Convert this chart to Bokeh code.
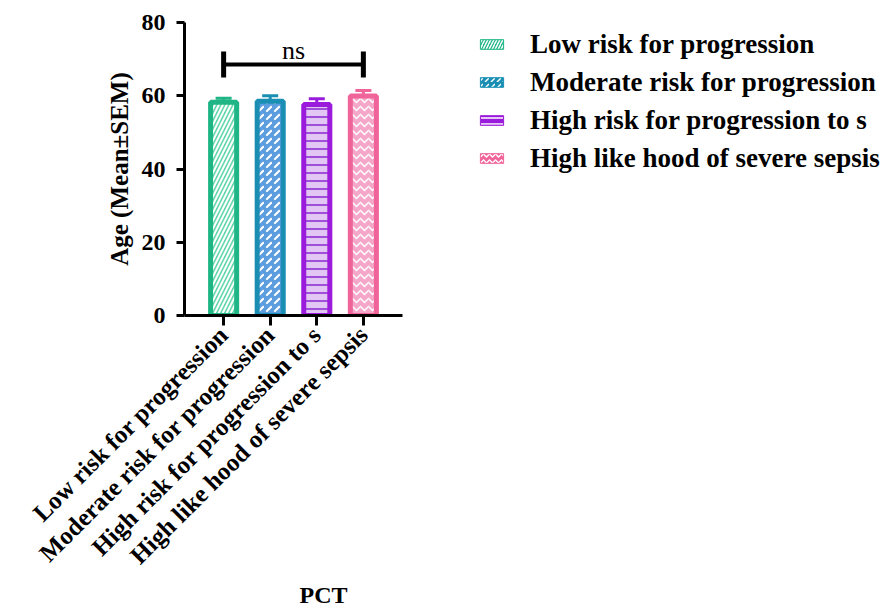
from math import pi
from bokeh.plotting import figure
from bokeh.layouts import row
from bokeh.models import (FactorRange, Range1d, FixedTicker, Legend, LegendItem,
                          Whisker, TeeHead, Label, ColumnDataSource)
from bokeh.embed import file_html
from bokeh.resources import INLINE

# ---- data ----
categories = ["Low risk for progression", "Moderate risk for progression",
              "High risk for progression to s", "High like hood of severe sepsis"]
mean_age = [58.2, 58.5, 57.6, 59.9]
sem_age = [1.1, 1.5, 1.6, 1.5]
y_ticks = [0, 20, 40, 60, 80]
sig_label = "ns"
x_title = "PCT"
y_title = "Age (Mean\u00b1SEM)"

# ---- styles ----
FONT = "Liberation Serif"
border_colors = ["#1fb585", "#1a8fb3", "#9a1bdc", "#f0649a"]
fill_colors = ["#62d6aa", "#5c9de0", "#e2c6f3", "#f4a7c8"]
hatch_colors = ["white", "white", "#a050d8", "white"]
hatch_patterns = ["/", ",", "-", "v"]


def bar_style(bc, fc, hc, hp):
    return dict(fill_color=fc, line_color=bc, line_width=5, hatch_pattern=hp,
                hatch_color=hc, hatch_scale=8, hatch_weight=1.5 if hp == "v" else 2)


p = figure(width=410, height=610,
           x_range=FactorRange(*categories, range_padding=0.34, range_padding_units="absolute"),
           y_range=Range1d(0, 80),
           output_backend="svg", toolbar_location=None,
           min_border_left=184, min_border_right=8, min_border_top=22, min_border_bottom=295)
p.outline_line_color = None
p.xgrid.visible = False
p.ygrid.visible = False

for cat, m, s, bc, fc, hc, hp in zip(categories, mean_age, sem_age, border_colors,
                                      fill_colors, hatch_colors, hatch_patterns):
    p.vbar(x=[cat], top=[m], width=0.56, **bar_style(bc, fc, hc, hp))
    src = ColumnDataSource(dict(base=[cat], lower=[m], upper=[m + s]))
    p.add_layout(Whisker(source=src, base="base", lower="lower", upper="upper",
                         dimension="height", line_color=bc, line_width=3,
                         upper_head=TeeHead(size=16, line_color=bc, line_width=3),
                         lower_head=None))

# significance bracket
bracket_y, bracket_lo, bracket_hi = 68.5, 65.0, 72.1
p.segment(x0=[categories[0]], x1=[categories[-1]], y0=[bracket_y], y1=[bracket_y],
          line_color="black", line_width=4)
p.segment(x0=[categories[0], categories[-1]], x1=[categories[0], categories[-1]],
          y0=[bracket_lo] * 2, y1=[bracket_hi] * 2, line_color="black", line_width=5)
p.add_layout(Label(x=2.0, y=72.3, text=sig_label, text_align="center",
                   text_baseline="alphabetic", text_font=FONT, text_font_size="26px",
                   text_color="black"))

# axes
p.yaxis.ticker = FixedTicker(ticks=y_ticks)
p.yaxis.minor_tick_line_color = None
for ax in (p.xaxis[0], p.yaxis[0]):
    ax.axis_line_width = 3
    ax.axis_line_color = "black"
    ax.major_tick_line_width = 3
    ax.major_tick_line_color = "black"
    ax.major_tick_in = 0
    ax.major_label_text_font = FONT
    ax.major_label_text_font_style = "bold"
    ax.major_label_text_color = "black"
    ax.axis_label_text_font = FONT
    ax.axis_label_text_font_style = "bold"
    ax.axis_label_text_color = "black"
p.yaxis.major_label_text_font_size = "24px"
p.yaxis.major_tick_out = 8
p.yaxis.major_label_standoff = 11
p.yaxis.axis_label = y_title
p.yaxis.axis_label_text_font_size = "25px"
p.yaxis.axis_label_standoff = 6
p.xaxis.major_label_text_font_size = "25px"
p.xaxis.major_tick_out = 10
p.xaxis.major_label_standoff = 5
p.xaxis.major_label_orientation = pi / 4
p.xaxis.axis_label = "\u00a0" * 10 + x_title
p.xaxis.axis_label_text_font_size = "24px"
p.xaxis.axis_label_standoff = 0

# legend panel (separate figure so that the legend is not clipped by the bar frame)
pl = figure(width=472, height=610, x_range=FactorRange(*categories), y_range=Range1d(0, 80),
            output_backend="svg", toolbar_location=None, x_axis_type=None, y_axis_type=None,
            min_border=0)
pl.outline_line_color = None
pl.xgrid.visible = False
pl.ygrid.visible = False
items = []
for cat, m, bc, hc, hp in zip(categories, mean_age, border_colors, hatch_colors,
                              hatch_patterns):
    r = pl.vbar(x=[cat], top=[m], width=0.56, visible=False, fill_color=bc, line_color=bc,
                line_width=1, hatch_pattern=hp, hatch_color="white" if hc != "white" else hc,
                hatch_scale=6, hatch_weight=1.5)
    items.append(LegendItem(label=cat, renderers=[r]))
legend = Legend(items=items, location=(67, 141), label_text_font=FONT,
                label_text_font_style="bold", label_text_font_size="27px",
                label_text_color="black", glyph_width=29, glyph_height=12,
                label_height=32, label_standoff=24, spacing=6, padding=0, margin=0,
                border_line_color=None, background_fill_alpha=0,
                click_policy="none", inactive_fill_alpha=0)
pl.add_layout(legend)

layout = row(p, pl, spacing=0)
open("out.html", "w").write(file_html(layout, INLINE))
